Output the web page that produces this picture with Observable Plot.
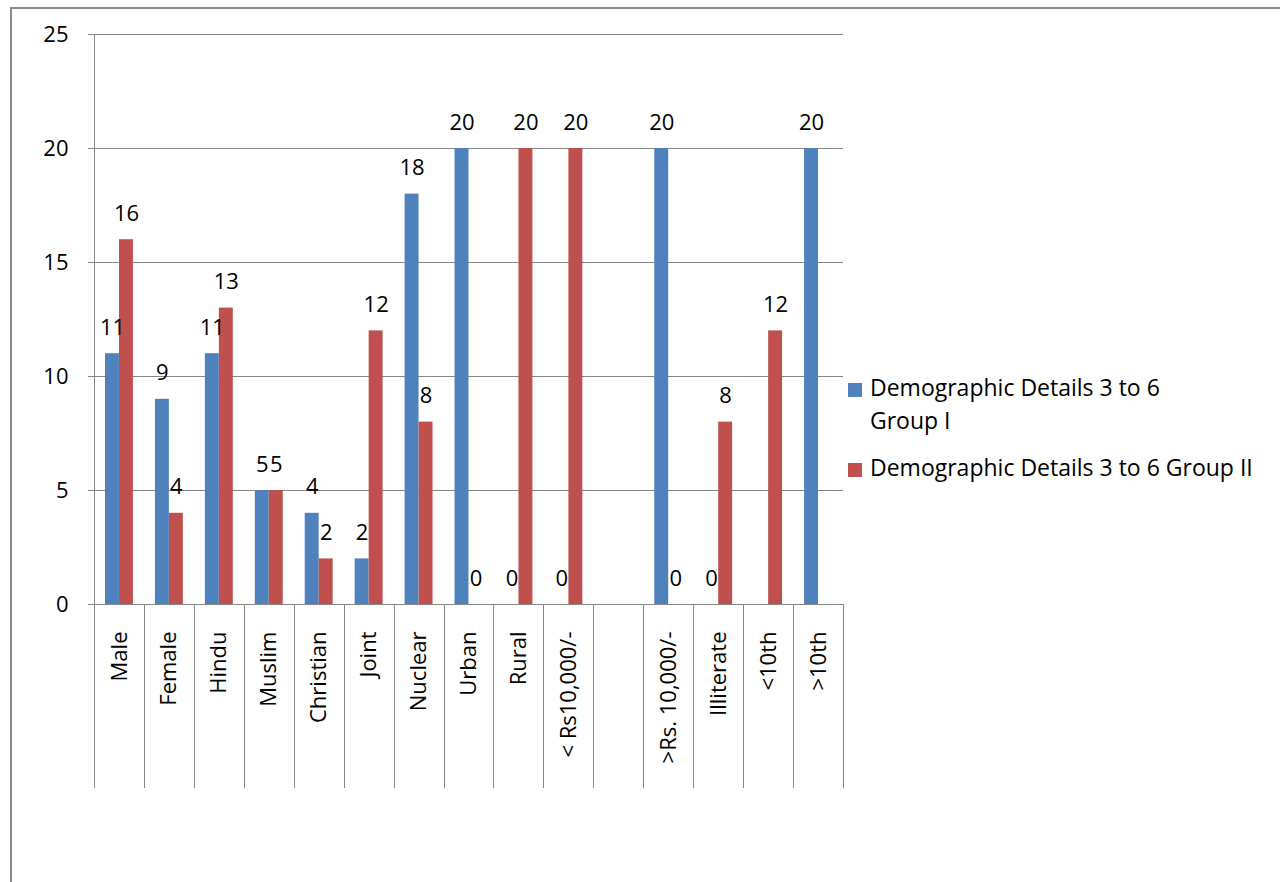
<!DOCTYPE html>
<html>
<head>
<meta charset="utf-8">
<script src="https://cdn.jsdelivr.net/npm/d3@7"></script>
<script src="https://cdn.jsdelivr.net/npm/@observablehq/plot@0.6"></script>
<style>
  html, body { margin: 0; padding: 0; background: #fff; }
  #wrap { position: relative; width: 1280px; height: 882px; font-family: "Open Sans", sans-serif; }
  #legend { position: absolute; left: 848px; top: 371px; font-size: 23px; color: #000; }
  .item { display: flex; align-items: flex-start; margin-bottom: 14px; line-height: 33px; }
  .swatch { width: 14px; height: 14px; margin-top: 12px; margin-right: 8px; flex: none; }
</style>
</head>
<body>
<div id="wrap">
  <div id="chart"></div>
  <div id="legend"></div>
</div>
<script>
// Demographic details, 3 to 6 year olds, two groups
const categories = ["Male", "Female", "Hindu", "Muslim", "Christian", "Joint", "Nuclear", "Urban", "Rural",
  "< Rs10,000/-", "", ">Rs. 10,000/-", "Illiterate", "<10th", ">10th"];
const groupI  = [11, 9, 11, 5, 4, 2, 18, 20, 0, 0, null, 20, 0, null, 20];
const groupII = [16, 4, 13, 5, 2, 12, 8, 0, 20, 20, null, 0, 8, 12, null];
const seriesNames = ["Demographic Details 3 to 6 Group I", "Demographic Details 3 to 6 Group II"];
const legendLabels = [["Demographic Details 3 to 6", "Group I"], ["Demographic Details 3 to 6 Group II"]];
const seriesColors = ["#4F81BD", "#C0504D"];
const yTicks = [0, 5, 10, 15, 20, 25];

const rowsI = categories.map((c, i) => ({category: c, series: seriesNames[0], value: groupI[i]})).filter(d => d.value != null);
const rowsII = categories.map((c, i) => ({category: c, series: seriesNames[1], value: groupII[i]})).filter(d => d.value != null);

const gridColor = "#868686";
const fontSize = 22;

// Category separators below the axis and the outer chart border
function categoryDividers(index, scales, values, dimensions) {
  const outer = d3.create("svg:g");
  const g = outer.append("g").attr("stroke", gridColor).attr("stroke-width", 1);
  const x = scales.x;
  const step = x(categories[1]) - x(categories[0]);
  const y0 = scales.y(0);
  for (let i = 0; i <= categories.length; i++) {
    const px = Math.round(x(categories[0]) + i * step) + 0.5;
    g.append("line").attr("x1", px).attr("x2", px).attr("y1", y0).attr("y2", y0 + 184);
  }
  outer.append("path")
    .attr("stroke", "#8c8c8c").attr("stroke-width", 2).attr("fill", "none")
    .attr("d", `M11,${dimensions.height}V8H${dimensions.width}`);
  return outer.node();
}

const chart = Plot.plot({
  width: 1280,
  height: 882,
  marginLeft: 94,
  marginRight: 437,
  marginTop: 34,
  marginBottom: 278,
  style: {fontFamily: "Open Sans, sans-serif", fontSize: fontSize + "px", color: "#000", background: "#fff"},
  x: {type: "band", domain: categories, padding: 0, round: false, axis: null},
  y: {domain: [0, 25], axis: null},
  marks: [
    Plot.ruleY(yTicks, {stroke: gridColor, strokeWidth: 1}),
    Plot.axisY({ticks: yTicks, label: null, tickSize: 6, tickPadding: 20, stroke: gridColor, color: "#000", fontSize}),
    Plot.frame({anchor: "left", stroke: gridColor}),
    categoryDividers,
    Plot.barY(rowsI, {x: "category", y: "value", fill: seriesColors[0], insetLeft: 11, insetRight: 25}),
    Plot.barY(rowsII, {x: "category", y: "value", fill: seriesColors[1], insetLeft: 25, insetRight: 11}),
    Plot.text(rowsI, {x: "category", y: "value", text: d => String(d.value), dx: -7, dy: -26, fill: "#000", fontSize}),
    Plot.text(rowsII, {x: "category", y: "value", text: d => String(d.value), dx: 7, dy: -26, fill: "#000", fontSize}),
    Plot.text(categories, {x: d => d, y: () => 0, text: d => d, rotate: -90, textAnchor: "end", dy: 27, fill: "#000", fontSize})
  ]
});
document.getElementById("chart").appendChild(chart);

// Legend on the right of the plot
const legend = d3.select("#legend");
seriesNames.forEach((name, i) => {
  const item = legend.append("div").attr("class", "item");
  item.append("div").attr("class", "swatch").style("background", seriesColors[i]);
  item.append("div").html(legendLabels[i].join("<br>"));
});
</script>
</body>
</html>
